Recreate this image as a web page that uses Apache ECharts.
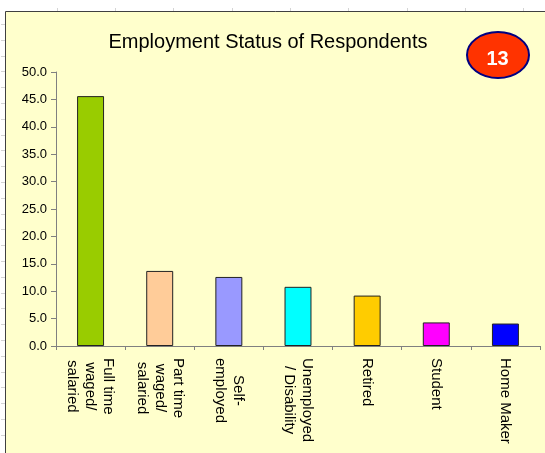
<!DOCTYPE html>
<html><head><meta charset="utf-8">
<script src="https://cdn.jsdelivr.net/npm/echarts@6/dist/echarts.min.js"></script>
<style>html,body{margin:0;padding:0;background:#fff}#c{width:545px;height:453px}</style>
</head><body><div id="c"></div>
<script>
const titleText = "Employment Status of Respondents";
const badgeText = "13";
const categories = ["Full time\nwaged/\nsalaried", "Part time\nwaged/\nsalaried", "Self-\nemployed", "Unemployed\n/ Disability", "Retired", "Student", "Home Maker"];
const values = [45.6, 13.7, 12.6, 10.8, 9.2, 4.3, 4.1];
const barColors = ["#99CC00", "#FFCC99", "#9999FF", "#00FFFF", "#FFCC00", "#FF00FF", "#0000FF"];
const yMin = 0, yMax = 50, yStep = 5;

const FONT = "'Liberation Sans', Arial, sans-serif";
const chart = echarts.init(document.getElementById('c'), null, {renderer: 'canvas'});

// Decorative spreadsheet gridlines outside the chart area
const deco = [];
[57, 115, 173, 232, 290, 348, 407, 465, 523].forEach(x => {
  deco.push({type: 'line', z: -20, shape: {x1: x + 0.5, y1: 8, x2: x + 0.5, y2: 11}, style: {stroke: '#d4d4d4', lineWidth: 1}});
});
for (let k = 0; k < 27; k++) {
  const y = Math.round(24 + 15.8 * k) + 0.5;
  deco.push({type: 'line', z: -20, shape: {x1: 1, y1: y, x2: 5, y2: y}, style: {stroke: '#d4d4d4', lineWidth: 1}});
}

chart.setOption({
  backgroundColor: '#ffffff',
  animation: false,
  grid: {left: 56, right: 5, top: 72, bottom: 107, outerBoundsMode: 'none', containLabel: false},
  graphic: deco.concat([
    {type: 'rect', z: -10, shape: {x: 5.5, y: 11.5, width: 600, height: 500},
      style: {fill: '#FFFFCC', stroke: '#404040', lineWidth: 1}},
    {type: 'text', z: 10, x: 268, y: 42,
      style: {text: titleText, fill: '#000', font: 'normal 20px ' + FONT, textAlign: 'center', textVerticalAlign: 'middle'}},
    {type: 'ellipse', z: 10, shape: {cx: 498, cy: 55, rx: 31, ry: 23},
      style: {fill: '#FF3300', stroke: '#000080', lineWidth: 2}},
    {type: 'text', z: 11, x: 497.5, y: 59,
      style: {text: badgeText, fill: '#fff', font: 'bold 20px ' + FONT, textAlign: 'center', textVerticalAlign: 'middle'}}
  ]),
  xAxis: {
    type: 'category',
    data: categories,
    boundaryGap: true,
    axisLine: {show: true, lineStyle: {color: '#808080', width: 1}},
    axisTick: {show: true, length: 4, alignWithLabel: false, lineStyle: {color: '#808080'}},
    splitLine: {show: false},
    axisLabel: {
      interval: 0, rotate: -90, align: 'left', verticalAlign: 'middle', margin: 12,
      formatter: v => v.split('\n').map(s => '{c|' + s + '}').join('\n'),
      rich: {c: {align: 'center', fontSize: 15, lineHeight: 18, color: '#000', fontFamily: FONT}}
    }
  },
  yAxis: {
    type: 'value', min: yMin, max: yMax, interval: yStep,
    axisLine: {show: true, lineStyle: {color: '#808080', width: 1}},
    axisTick: {show: true, length: 5, lineStyle: {color: '#808080'}},
    splitLine: {show: false},
    axisLabel: {formatter: v => v.toFixed(1), fontSize: 13, color: '#000', fontFamily: FONT, margin: 9}
  },
  series: [{
    type: 'bar',
    barWidth: '39%',
    data: values.map((v, i) => ({value: v, itemStyle: {color: barColors[i]}})),
    itemStyle: {borderColor: '#222', borderWidth: 1},
    emphasis: {disabled: true}
  }]
});
</script></body></html>
